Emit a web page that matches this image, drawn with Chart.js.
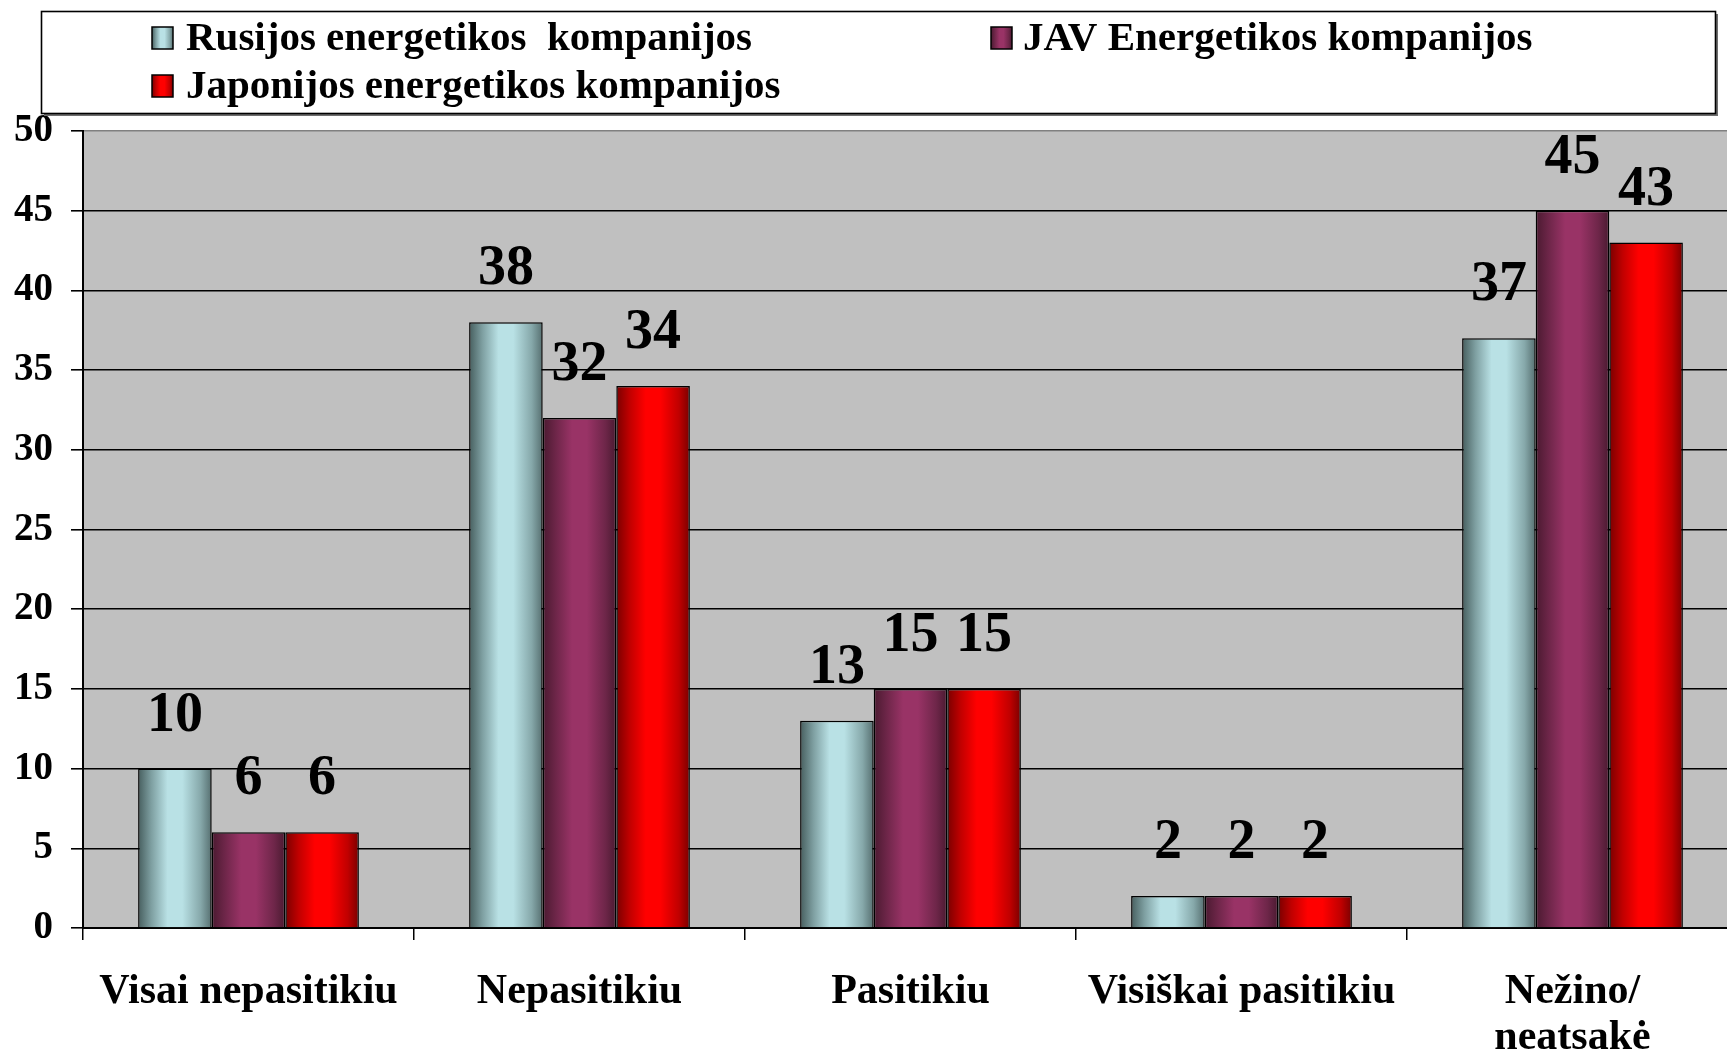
<!DOCTYPE html>
<html>
<head>
<meta charset="utf-8">
<script src="https://cdn.jsdelivr.net/npm/chart.js@4/dist/chart.umd.min.js"></script>
<style>
  html, body { margin: 0; padding: 0; background: #ffffff; overflow: hidden; }
  #wrap { position: relative; width: 1727px; height: 1055px; overflow: hidden; }
</style>
</head>
<body>
<div id="wrap"><canvas id="c" width="1738" height="1055"></canvas></div>
<script>
// ---- data ----
const categories = ["Visai nepasitikiu", "Nepasitikiu", "Pasitikiu", "Visiškai pasitikiu", ["Nežino/", "neatsakė"]];
const seriesNames = ["Rusijos energetikos  kompanijos", "JAV Energetikos kompanijos", "Japonijos energetikos kompanijos"];
const rusija = [10, 38, 13, 2, 37];
const jav = [6, 32, 15, 2, 45];
const japonija = [6, 34, 15, 2, 43];
const yTicks = [0, 5, 10, 15, 20, 25, 30, 35, 40, 45, 50];

// ---- styles ----
const FONT = "'Liberation Serif', 'Times New Roman', serif";
const gradStops = [
  [[0, '#465e5e'], [0.18, '#7e9fa1'], [0.4, '#b9e1e5'], [0.6, '#b9e1e5'], [0.85, '#86a8aa'], [1, '#566f70']],
  [[0, '#4a1a30'], [0.18, '#6e2649'], [0.4, '#993366'], [0.6, '#993366'], [0.85, '#6e2649'], [1, '#4a1a30']],
  [[0, '#7a0000'], [0.18, '#c00000'], [0.4, '#ff0000'], [0.6, '#ff0000'], [0.85, '#c00000'], [1, '#7a0000']]
];
function makeGrad(ctx, x0, x1, stops) {
  const g = ctx.createLinearGradient(x0, 0, x1, 0);
  stops.forEach(s => g.addColorStop(s[0], s[1]));
  return g;
}

const bgPlugin = {
  id: 'bg',
  beforeDraw(chart) {
    const { ctx, chartArea: a } = chart;
    ctx.save();
    ctx.fillStyle = '#ffffff';
    ctx.fillRect(0, 0, chart.width, chart.height);
    ctx.fillStyle = '#c0c0c0';
    ctx.fillRect(a.left, a.top, a.right - a.left, a.bottom - a.top);
    ctx.restore();
  }
};

const gradPlugin = {
  id: 'grad',
  beforeDatasetsDraw(chart) {
    const ctx = chart.ctx;
    chart.data.datasets.forEach((ds, i) => {
      const meta = chart.getDatasetMeta(i);
      meta.data.forEach(el => {
        const g = makeGrad(ctx, el.x - el.width / 2, el.x + el.width / 2, gradStops[i]);
        el.options = Object.assign({}, el.options, { backgroundColor: g });
      });
    });
  }
};

const labelPlugin = {
  id: 'vals',
  afterDatasetsDraw(chart) {
    const ctx = chart.ctx;
    ctx.save();
    ctx.font = 'bold 56px ' + FONT;
    ctx.fillStyle = '#000';
    ctx.textAlign = 'center';
    ctx.textBaseline = 'alphabetic';
    chart.data.datasets.forEach((ds, i) => {
      const meta = chart.getDatasetMeta(i);
      meta.data.forEach((el, j) => {
        ctx.fillText(String(ds.data[j]), el.x, el.y - 38);
      });
    });
    ctx.restore();
  }
};

const legendPlugin = {
  id: 'customLegend',
  afterDraw(chart) {
    const ctx = chart.ctx;
    ctx.save();
    const bx = 41.5, by = 11.5, bw = 1674, bh = 102;
    ctx.fillStyle = '#6e6e6e';
    ctx.fillRect(bx + 2.5, by + 2.5, bw, bh);
    ctx.fillStyle = '#ffffff';
    ctx.fillRect(bx, by, bw, bh);
    ctx.strokeStyle = '#000';
    ctx.lineWidth = 1.6;
    ctx.strokeRect(bx, by, bw, bh);
    const items = [
      { sx: 152, sy: 27, tx: 186, ty: 49.5 },
      { sx: 991, sy: 27, tx: 1023, ty: 49.5 },
      { sx: 152, sy: 75, tx: 186, ty: 97.5 }
    ];
    ctx.font = 'bold 41px ' + FONT;
    ctx.textAlign = 'left';
    ctx.textBaseline = 'alphabetic';
    chart.data.datasets.forEach((ds, i) => {
      const it = items[i];
      ctx.fillStyle = makeGrad(ctx, it.sx, it.sx + 21, gradStops[i]);
      ctx.fillRect(it.sx, it.sy, 21, 22);
      ctx.strokeStyle = '#000';
      ctx.lineWidth = 1.5;
      ctx.strokeRect(it.sx, it.sy, 21, 22);
      ctx.fillStyle = '#000';
      ctx.fillText(ds.label, it.tx, it.ty);
    });
    ctx.restore();
  }
};

const chart = new Chart(document.getElementById('c'), {
  type: 'bar',
  data: {
    labels: categories,
    datasets: [
      { label: seriesNames[0], data: rusija, backgroundColor: '#b9e1e5' },
      { label: seriesNames[1], data: jav, backgroundColor: '#993366' },
      { label: seriesNames[2], data: japonija, backgroundColor: '#ff0000' }
    ]
  },
  options: {
    responsive: false,
    animation: false,
    devicePixelRatio: 1,
    layout: { padding: { top: 131, left: 0, right: 0, bottom: 0 } },
    datasets: {
      bar: {
        categoryPercentage: 0.667,
        barPercentage: 1.0,
        borderColor: '#000',
        borderWidth: 1.5,
        borderSkipped: 'bottom'
      }
    },
    plugins: {
      legend: { display: false },
      tooltip: { enabled: false },
      title: { display: false }
    },
    scales: {
      x: {
        type: 'category',
        offset: true,
        grid: {
          display: true,
          offset: true,
          drawOnChartArea: false,
          drawTicks: true,
          tickLength: 12,
          color: '#000',
          lineWidth: 1.5
        },
        border: { display: true, color: '#000', width: 2 },
        ticks: {
          color: '#000',
          font: { family: FONT, size: 42, weight: 'bold', lineHeight: '46px' },
          padding: 29,
          maxRotation: 0,
          minRotation: 0,
          autoSkip: false
        },
        afterFit(scale) { scale.height = 127; }
      },
      y: {
        min: 0,
        max: 50,
        afterBuildTicks(scale) { scale.ticks = yTicks.map(v => ({ value: v })); },
        grid: {
          color: (c) => (c.tick && c.tick.value === 50 ? '#808080' : '#000'),
          tickColor: '#000',
          lineWidth: 1.6,
          drawTicks: true,
          tickLength: 12
        },
        border: { display: true, color: '#000', width: 2 },
        ticks: {
          color: '#000',
          font: { family: FONT, size: 39, weight: 'bold' },
          padding: 18
        },
        afterFit(scale) { scale.width = 83; }
      }
    }
  },
  plugins: [bgPlugin, gradPlugin, labelPlugin, legendPlugin]
});
</script>
</body>
</html>
